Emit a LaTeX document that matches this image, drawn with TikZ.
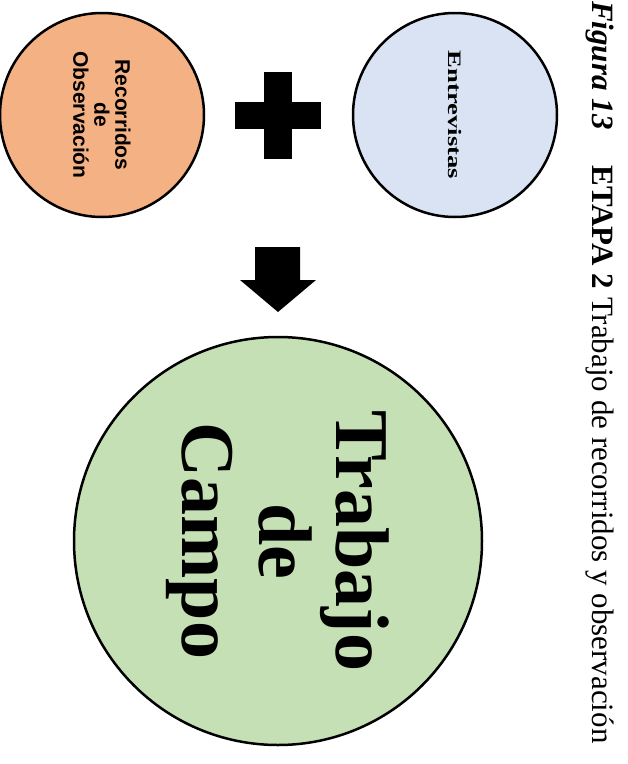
\documentclass[tikz,border=0pt]{standalone}
\usepackage{fontspec}
\setmainfont{Liberation Serif}
\setsansfont{Liberation Sans}
\usepackage{graphicx}
\definecolor{RecClr}{rgb}{0.957,0.694,0.514}
\definecolor{EntClr}{rgb}{0.855,0.890,0.953}
\definecolor{CampoClr}{rgb}{0.773,0.878,0.706}

\begin{document}
\begin{tikzpicture}[x=1pt,y=-1pt,
  circ/.style={circle,draw=black,line width=2.5pt,inner sep=0pt,align=center,rotate=-90}]
\useasboundingbox (0,0) rectangle (628,764);

% caption, turned with the page
\node[rotate=-90,anchor=base west,inner sep=0pt,font=\fontsize{31}{31}\selectfont] (cap) at (592,1)
  {\textbf{\textit{Figura 13}}\hspace{36pt}\textbf{ETAPA 2} Trabajo de recorridos y observación};

\node[circ,fill=RecClr,minimum size=204pt,font=\sffamily\bfseries\fontsize{21}{21}\selectfont] (rec) at (102,115)
  {Recorridos\\de\\Observación};
\node[circ,fill=EntClr,minimum size=204pt,font=\bfseries\fontsize{19}{19}\selectfont] (ent) at (455,115)
  {\scalebox{1.4}[1]{Entrevistas}};
\node[circ,fill=CampoClr,minimum size=408pt,font=\bfseries\fontsize{76}{77}\selectfont] (campo) at (278,541)
  {Trabajo\\de\\Campo};

% plus sign
\fill (235,102) rectangle (321,129);
\fill (264,72) rectangle (292,159);

% block arrow
\fill (255,247) -- (300,247) -- (300,280) -- (316,280) -- (278,312) -- (240,280) -- (255,280) -- cycle;

\end{tikzpicture}
\end{document}
